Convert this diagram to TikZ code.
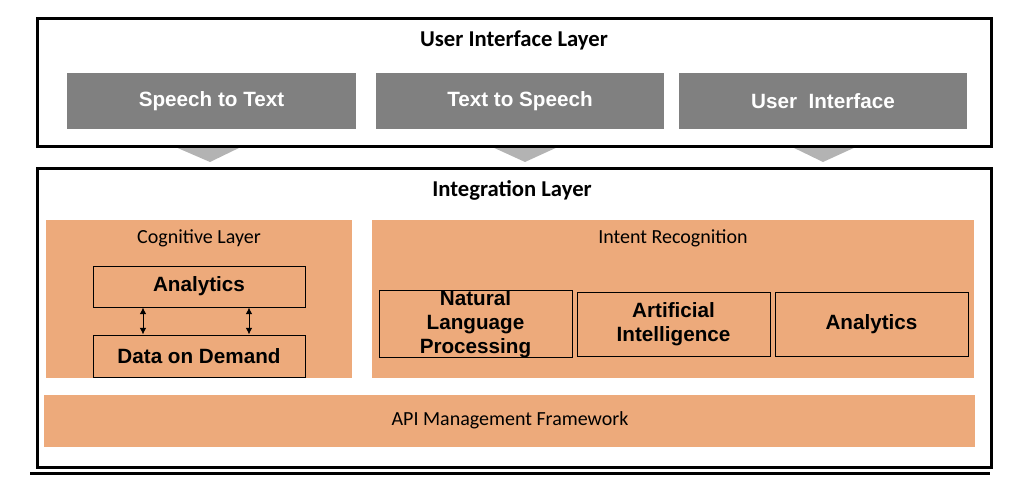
\documentclass[tikz,border=0pt]{standalone}
\usepackage{fontspec}
\setmainfont{Liberation Sans}
\newfontfamily\calfont{Carlito}
\usetikzlibrary{positioning,arrows.meta}

\definecolor{uigray}{RGB}{128,128,128}
\definecolor{chevgray}{RGB}{179,179,179}
\definecolor{layerorange}{RGB}{237,170,123}

\tikzset{every picture/.style={line width=0.75pt}}
\tikzset{
  layerbox/.style={draw, line width=2.25pt, inner sep=0pt},
  uibox/.style={fill=uigray, text=white, font=\fontsize{15.5}{18}\selectfont\bfseries, inner sep=0pt},
  orangebox/.style={fill=layerorange, inner sep=0pt},
  itembox/.style={draw, line width=0.75pt, align=center, inner sep=0pt, font=\fontsize{15.5}{18}\selectfont\bfseries},
  layertitle/.style={font=\calfont\fontsize{17}{20}\selectfont\bfseries},
  subtitle/.style={font=\calfont\fontsize{15}{18}\selectfont},
  chevron/.style={fill=chevgray, draw=none},
  updown/.style={{Latex[length=5pt,width=5pt]}-{Latex[length=5pt,width=5pt]}, line width=0.75pt}
}

\begin{document}
\begin{tikzpicture}[x=0.75pt,y=0.75pt,yscale=-1,xscale=1]
	\useasboundingbox (0,0) rectangle (1014,489);

	%Shapes: Chevrons under the user interface layer
	\fill [chevron] (173,146) -- (243,146) -- (210,162) -- cycle ;
	\fill [chevron] (490,146) -- (560,146) -- (525,162) -- cycle ;
	\fill [chevron] (790,146) -- (858,146) -- (823,162) -- cycle ;

	%Shape: User Interface Layer
	\node [layerbox, fill=white, minimum width=954*0.75pt, minimum height=128*0.75pt] (uilayer) at (514,82) {};
	\node [layertitle] (uititle) at (514,40) {User Interface Layer};
	\node [uibox, minimum width=289*0.75pt, minimum height=56*0.75pt] (stt) at (211.5,101) {Speech to Text};
	\node [uibox, minimum width=288*0.75pt, minimum height=56*0.75pt] (tts) at (520,101) {Text to Speech};
	\node [uibox, minimum width=288*0.75pt, minimum height=56*0.75pt] (ui) at (823,101) {User\ \ Interface};

	%Shape: Integration Layer
	\node [layerbox, minimum width=954*0.75pt, minimum height=299*0.75pt] (intlayer) at (514,317.5) {};
	\node [layertitle] (inttitle) at (512,190) {Integration Layer};

	%Shape: Cognitive Layer
	\node [orangebox, minimum width=306*0.75pt, minimum height=158*0.75pt] (cog) at (199,299) {};
	\node [subtitle] (cogtitle) at (199,238) {Cognitive Layer};
	\node [itembox, minimum width=212*0.75pt, minimum height=41*0.75pt] (ana) at (199,286.5) {Analytics};
	\node [itembox, minimum width=212*0.75pt, minimum height=42*0.75pt] (dod) at (199,356) {Data on Demand};
	\coordinate (a1) at (143,0);
	\coordinate (a2) at (249,0);
	\draw [updown] (ana.south -| a1) -- (dod.north -| a1) ;
	\draw [updown] (ana.south -| a2) -- (dod.north -| a2) ;

	%Shape: Intent Recognition
	\node [orangebox, minimum width=602*0.75pt, minimum height=158*0.75pt] (intent) at (673,299) {};
	\node [subtitle] (intenttitle) at (673,238) {Intent Recognition};
	\node [itembox, minimum width=193*0.75pt, minimum height=64*0.75pt] (nlp) at (475.5,324) {Natural\\Language\\Processing};
	\node [itembox, minimum width=193*0.75pt, minimum height=64*0.75pt] (ai) at (673.5,324) {Artificial\\Intelligence};
	\node [itembox, minimum width=193*0.75pt, minimum height=64*0.75pt] (ana2) at (871.5,324) {Analytics};

	%Shape: API Management Framework
	\node [orangebox, minimum width=931*0.75pt, minimum height=52*0.75pt] (api) at (509.5,421) {};
	\node [subtitle] (apititle) at (510,420) {API Management Framework};

	%Straight Lines: bottom rule
	\draw [line width=2.25pt] (30,473) -- (990,473) ;

\end{tikzpicture}
\end{document}
